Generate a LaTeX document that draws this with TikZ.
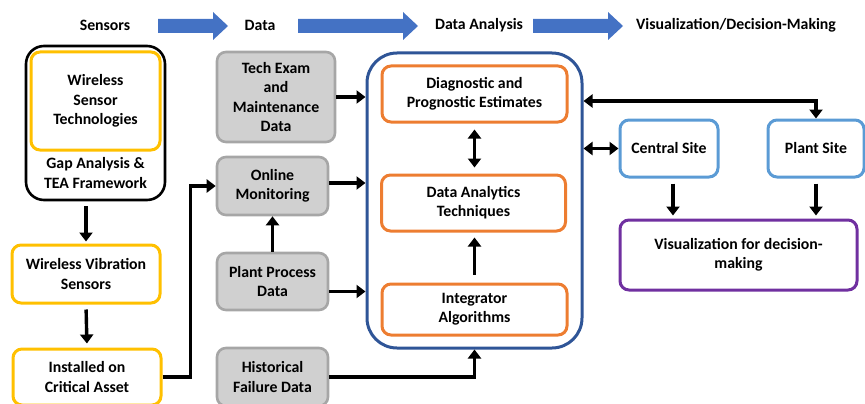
\documentclass[tikz,border=0pt]{standalone}
\usepackage{fontspec}
\setmainfont{Carlito}
\usetikzlibrary{arrows.meta}
\definecolor{ayellow}{HTML}{FFC000}
\definecolor{aorange}{HTML}{ED7D31}
\definecolor{adblue}{HTML}{2F5597}
\definecolor{alblue}{HTML}{5B9BD5}
\definecolor{apurple}{HTML}{7030A0}
\definecolor{ahead}{HTML}{4472C4}
\definecolor{agfill}{HTML}{D0D0D0}
\definecolor{agline}{HTML}{A6A6A6}
\tikzset{
  lbl/.style={align=center, font=\fontsize{15.8}{19.3}\selectfont\bfseries, inner sep=0pt},
  box/.style={lbl, rectangle, rounded corners=9pt, line width=3pt},
  ybox/.style={box, draw=ayellow},
  gbox/.style={box, draw=agline, fill=agfill, line width=2.6pt},
  obox/.style={box, draw=aorange},
  lbbox/.style={box, draw=alblue},
  pbox/.style={box, draw=apurple},
  conn/.style={line width=3.4pt, -{Triangle[length=9pt,width=13pt]}},
  both/.style={line width=3.4pt, {Triangle[length=9pt,width=13pt]}-{Triangle[length=9pt,width=13pt]}},
  stage/.style={fill=ahead}
}
\begin{document}
\begin{tikzpicture}[x=1pt,y=-1pt]
\useasboundingbox (0,0) rectangle (865,404);

% stage headings
\node[lbl] (hs) at (105,25) {Sensors};
\node[lbl] (hd) at (260,25) {Data};
\node[lbl] (ha) at (479,25) {Data Analysis};
\node[lbl] (hv) at (736,25) {Visualization/Decision-Making};
\fill[stage] (158,19) -- (213,19) -- (213,12) -- (228,26) -- (213,40) -- (213,33) -- (158,33) -- cycle;
\fill[stage] (298,19) -- (403,19) -- (403,12) -- (418,26) -- (403,40) -- (403,33) -- (298,33) -- cycle;
\fill[stage] (533,19) -- (608,19) -- (608,12) -- (623,26) -- (608,40) -- (608,33) -- (533,33) -- cycle;

% sensors column
\node[draw=black, line width=2.6pt, rounded corners=18pt, minimum width=139pt, minimum height=154pt] (outer) at (95.5,123) {};
\node[ybox, minimum width=129pt, minimum height=98pt] (wst) at (95.5,101) {Wireless\\Sensor\\Technologies};
\node[lbl] (gap) at (95.5,173) {Gap Analysis \&\\TEA Framework};
\node[ybox, minimum width=148pt, minimum height=58pt] (wvs) at (86,274) {Wireless Vibration\\Sensors};
\node[ybox, minimum width=148pt, minimum height=56pt] (ica) at (87,377) {Installed on\\Critical Asset};

% data column
\node[gbox, minimum width=118pt, minimum height=90pt] (tem) at (276,97) {Tech Exam\\and\\Maintenance\\Data};
\node[gbox, minimum width=111pt, minimum height=58pt] (olm) at (272.5,186) {Online\\Monitoring};
\node[gbox, minimum width=111pt, minimum height=57pt] (ppd) at (272.5,281.5) {Plant Process\\Data};
\node[gbox, minimum width=111pt, minimum height=58pt] (hfd) at (272.5,377) {Historical\\Failure Data};

% analysis block
\node[draw=adblue, line width=3pt, rounded corners=30pt, minimum width=215pt, minimum height=295pt] (blue) at (474.5,200.5) {};
\node[obox, minimum width=185pt, minimum height=56pt] (diag) at (474.5,94) {Diagnostic and\\Prognostic Estimates};
\node[obox, minimum width=184pt, minimum height=56pt] (dat) at (473.5,203) {Data Analytics\\Techniques};
\node[obox, minimum width=185pt, minimum height=51pt] (integ) at (474.5,309.5) {Integrator\\Algorithms};

% visualization
\node[lbbox, minimum width=98pt, minimum height=57pt] (central) at (669,148.5) {Central Site};
\node[lbbox, minimum width=96pt, minimum height=57pt] (plant) at (816,148.5) {Plant Site};
\node[pbox, minimum width=237pt, minimum height=70pt] (vis) at (738.5,255) {Visualization for decision-\\making};

% connectors
\coordinate (toprow) at (0,101);
\draw[conn, shorten <=5pt, shorten >=2pt] (wvs.north |- outer.south) -- (wvs.north);
\draw[conn, shorten <=5pt, shorten >=4pt] (wvs.south) -- (ica.north);
\draw[conn] (ica.east) -- ++(28,0) |- (olm.west);
\draw[conn] (tem.east) -- (tem.east -| blue.west);
\draw[conn] ([yshift=3pt]olm.east) -- ([yshift=3pt]olm.east -| blue.west);
\draw[conn] ([yshift=-10pt]ppd.east) -- ([yshift=-10pt]ppd.east -| blue.west);
\draw[conn] (ppd.north) -- (olm.south);
\draw[conn] (hfd.east) -| (blue.south);
\draw[both, shorten <=6pt, shorten >=6pt] (diag.south) -- (diag.south |- dat.north);
\draw[conn, shorten <=8pt, shorten >=5pt] (integ.north) -- (integ.north |- dat.south);
\draw[both] (blue.east |- toprow) -| (plant.north);
\draw[both] (central.west -| blue.east) -- (central.west);
\draw[conn, shorten <=5pt, shorten >=3pt] ([xshift=4pt]central.south) -- ([xshift=4pt]central.south |- vis.north);
\draw[conn, shorten <=5pt, shorten >=3pt] (plant.south) -- (plant.south |- vis.north);
\end{tikzpicture}
\end{document}
